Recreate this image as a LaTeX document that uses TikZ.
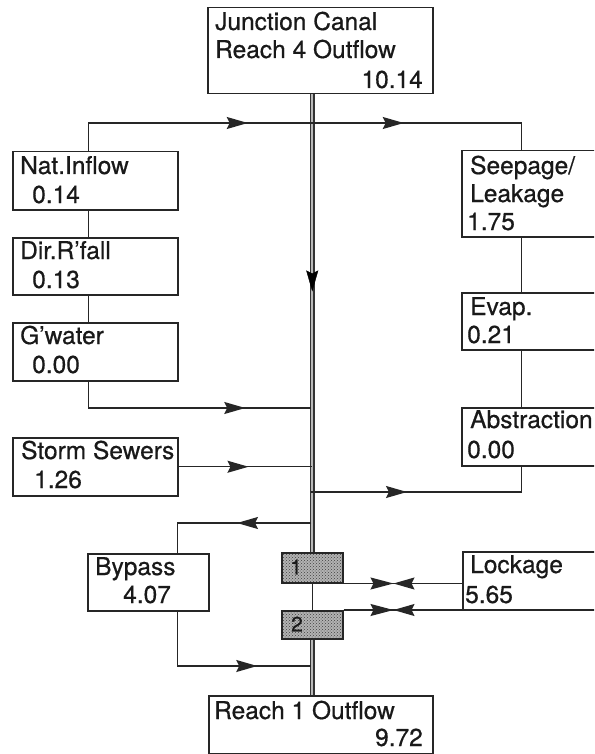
\documentclass[tikz,border=0pt]{standalone}
\usepackage{fontspec}
\setmainfont{TeX Gyre Heros}[UprightFeatures={FakeBold=0.6}]
\usetikzlibrary{arrows.meta,decorations.markings,patterns}
\begin{document}
\begin{tikzpicture}[x=1pt,y=-1pt,
  box/.style={draw=black!85, line width=1.5pt, rectangle, inner sep=0pt, anchor=north west},
  lockbox/.style={box, preaction={fill=gray!60}, pattern=crosshatch dots, pattern color=black!75},
  lbl/.style={inner sep=0pt, font=\fontsize{24.5}{28}\selectfont, text=black!90},
  numlbl/.style={inner sep=0pt, font=\fontsize{21}{24}\selectfont, text=black!90},
  conn/.style={draw=black!85, line width=1.4pt},
  mainline/.style={draw=black!80, line width=1.3pt, double=gray!55, double distance=2.4pt},
  arrowat/.style={postaction={decorate, decoration={markings,
      mark=at position #1 with {\arrow{Stealth[length=21pt,width=12pt,inset=3pt]}}}}},
  bowtie/.style={postaction={decorate, decoration={markings,
      mark=at position #1 with {\arrow{Stealth[length=23pt,width=12pt,inset=3pt]}\arrowreversed{Stealth[length=21pt,width=12pt,inset=3pt]}}}}},
]
\clip (0,0) rectangle (594,754);
\fill[white] (0,0) rectangle (594,754);

% boxes
\node[box, minimum width=225pt, minimum height=86pt] (top) at (207,7) {};
\node[box, minimum width=165pt, minimum height=58pt] (nat) at (12,151) {};
\node[box, minimum width=165pt, minimum height=57pt] (dir) at (12,237) {};
\node[box, minimum width=165pt, minimum height=58pt] (gw) at (12,322) {};
\node[box, minimum width=165pt, minimum height=58pt] (storm) at (12,437) {};
\node[box, minimum width=150pt, minimum height=86pt] (seep) at (461,150) {};
\node[box, minimum width=150pt, minimum height=57pt] (evap) at (461,292) {};
\node[box, minimum width=150pt, minimum height=58pt] (abs) at (461,407) {};
\node[box, minimum width=150pt, minimum height=58pt] (lock) at (462,551) {};
\node[box, minimum width=121pt, minimum height=57pt] (byp) at (87,553) {};
\node[lockbox, minimum width=61pt, minimum height=30pt] (b1) at (281,552) {};
\node[lockbox, minimum width=61pt, minimum height=28pt] (b2) at (281,610) {};
\node[box, minimum width=224pt, minimum height=58pt] (r1) at (208,695) {};

% junction coordinates on the main channel
\coordinate (jg) at (311,408);
\coordinate (jb) at (311,492);
\coordinate (jc) at (311,523);
\coordinate (jd) at (311,666);

% main channel
\draw[mainline] (b1.north |- top.south) -- (b1.north);
\path[arrowat=197pt] (b1.north |- top.south) -- (b1.north);
\draw[conn] (b1.south) -- (b2.north);
\draw[mainline] (b2.south) -- (b2.south |- r1.north);

% top distribution line
\draw[conn, arrowat=187pt, arrowat=343pt] ([xshift=-6.5pt]nat.north) -- ++(0,-28) -| ([xshift=-15pt]seep.north);
% left chain
\draw[conn] ([xshift=-6.5pt]nat.south) -- ([xshift=-6.5pt]dir.north);
\draw[conn] ([xshift=-6.5pt]dir.south) -- ([xshift=-6.5pt]gw.north);
\draw[conn, arrowat=183pt] ([xshift=-6.5pt]gw.south) |- (jg);
\draw[conn, arrowat=70pt] (storm.east) -- (storm.east -| b1.north);
% right chain
\draw[conn] ([xshift=-15pt]seep.south) -- ([xshift=-15pt]evap.north);
\draw[conn] ([xshift=-15pt]evap.south) -- ([xshift=-15pt]abs.north);
\draw[conn, arrowat=96pt] (jb) -| ([xshift=-15pt]abs.south);
% bypass
\draw[conn, arrowat=74pt] (jc) -| ([xshift=29.5pt]byp.north);
\draw[conn, arrowat=134pt] ([xshift=29.5pt]byp.south) |- (jd);
% lockage
\draw[conn, bowtie=50pt] (b1.south east) -- (b1.south east -| lock.west);
\draw[conn, bowtie=50pt] (b2.north east) -- (b2.north east -| lock.west);

% texts
\node[lbl, anchor=base west] (top-a) at (215,30) {Junction Canal};
\node[lbl, anchor=base west] (top-b) at (215,58) {Reach 4 Outflow};
\node[lbl, anchor=base east] (top-c) at (423,88) {10.14};
\node[lbl, anchor=base west] (nat-a) at (20,174) {Nat.Inflow};
\node[lbl, anchor=base west] (nat-b) at (32,203) {0.14};
\node[lbl, anchor=base west] (dir-a) at (20,259) {Dir.R'fall};
\node[lbl, anchor=base west] (dir-b) at (32,288) {0.13};
\node[lbl, anchor=base west] (gw-a) at (20,344) {G'water};
\node[lbl, anchor=base west] (gw-b) at (32,373) {0.00};
\node[lbl, anchor=base west] (storm-a) at (21,459) {Storm Sewers};
\node[lbl, anchor=base west] (storm-b) at (34,488) {1.26};
\node[lbl, anchor=base west] (seep-a) at (470,174) {Seepage/};
\node[lbl, anchor=base west] (seep-b) at (470,202) {Leakage};
\node[lbl, anchor=base west] (seep-c) at (467,230) {1.75};
\node[lbl, anchor=base west] (evap-a) at (470,315) {Evap.};
\node[lbl, anchor=base west] (evap-b) at (467,343) {0.21};
\node[lbl, anchor=base west] (abs-a) at (470,428) {Abstraction};
\node[lbl, anchor=base west] (abs-b) at (467,458) {0.00};
\node[lbl, anchor=base west] (lock-a) at (470,573) {Lockage};
\node[lbl, anchor=base west] (lock-b) at (465,603) {5.65};
\node[lbl, anchor=base west] (byp-a) at (95,575) {Bypass};
\node[lbl, anchor=base west] (byp-b) at (123,603) {4.07};
\node[lbl, anchor=base west] (r1-a) at (214,719) {Reach 1 Outflow};
\node[lbl, anchor=base east] (r1-b) at (423,746) {9.72};
\node[numlbl] (b1-t) at (296,567) {1};
\node[numlbl] (b2-t) at (297,624) {2};
\end{tikzpicture}
\end{document}
